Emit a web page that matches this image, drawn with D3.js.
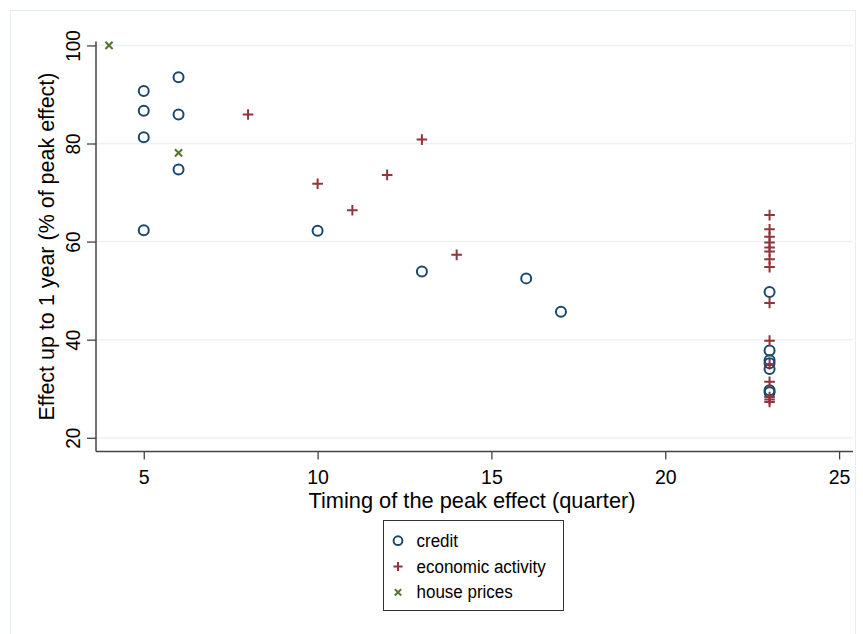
<!DOCTYPE html>
<html><head><meta charset="utf-8">
<script src="https://cdn.jsdelivr.net/npm/d3@7"></script>
<style>
html,body{margin:0;padding:0;background:#fff;}
text{font-family:"Liberation Sans",Arial,sans-serif;fill:#000;}
</style></head>
<body><svg id="c" width="863" height="634"></svg>
<script>
// Data (x = timing of peak effect in quarters, y = effect up to 1 year, % of peak effect)
const creditX = [5, 5, 5, 5, 6, 6, 6, 10, 13, 16, 17, 23, 23, 23, 23, 23, 23, 23];
const creditY = [90.7, 86.7, 81.3, 62.3, 93.5, 85.9, 74.7, 62.2, 53.9, 52.5, 45.7, 49.7, 37.8, 35.8, 35.2, 34.0, 29.7, 29.3];
const activityX = [8, 10, 11, 12, 13, 14, 23, 23, 23, 23, 23, 23, 23, 23, 23, 23, 23, 23, 23, 23, 23];
const activityY = [85.9, 71.8, 66.4, 73.6, 80.8, 57.3, 65.4, 62.5, 61.0, 59.8, 58.8, 56.4, 54.8, 47.5, 39.8, 35.0, 31.4, 28.3, 27.8, 27.3, 58.0];
const houseX = [4, 6];
const houseY = [100, 78.1];
const xTicks = [5, 10, 15, 20, 25];
const yTicks = [20, 40, 60, 80, 100];
const seriesNames = ["credit", "economic activity", "house prices"];
const xTitle = "Timing of the peak effect (quarter)";
const yTitle = "Effect up to 1 year (% of peak effect)";

const colors = {credit: "#1a476f", activity: "#90353b", house: "#55752f"};
const svg = d3.select("#c");

// outer frame
svg.append("rect").attr("x", 10.5).attr("y", 10.5).attr("width", 845).attr("height", 640)
  .attr("fill", "none").attr("stroke", "#e6eeee").attr("stroke-width", 1);

const L = 96, R = 853, T = 41.5, B = 451.5;
const x = d3.scaleLinear().domain([3.626, 25.40]).range([L, R]);
const y = d3.scaleLinear().domain([17.2, 100.8]).range([B, T]);

// gridlines
svg.append("g").selectAll("line").data(yTicks).join("line")
  .attr("x1", L).attr("x2", R).attr("y1", d => y(d)).attr("y2", d => y(d))
  .attr("stroke", "#eaf2f3").attr("stroke-width", 1.5);

// x axis
const xa = svg.append("g").attr("transform", `translate(0,${B})`)
  .call(d3.axisBottom(x).tickValues(xTicks).tickSize(8).tickPadding(4).tickFormat(d3.format("d")));
xa.select(".domain").attr("stroke", "#444").attr("stroke-width", 1.5).attr("d", `M${L},0H${R}`);
xa.selectAll(".tick line").attr("stroke", "#444").attr("stroke-width", 1.3);
xa.selectAll(".tick text").attr("font-size", 19.5).attr("dy", null).attr("y", 32.5)
  .attr("font-family", "Liberation Sans, Arial, sans-serif").attr("fill", "#000");

// y axis
const ya = svg.append("g").attr("transform", `translate(${L},0)`)
  .call(d3.axisLeft(y).tickValues(yTicks).tickSize(9).tickFormat(d3.format("d")));
ya.select(".domain").attr("stroke", "#444").attr("stroke-width", 1.5).attr("d", `M0,${T}V${B}`);
ya.selectAll(".tick line").attr("stroke", "#444").attr("stroke-width", 1.3);
ya.selectAll(".tick text").attr("font-size", 19).attr("x", null).attr("dy", null)
  .attr("text-anchor", "middle").attr("transform", "translate(-16,0) rotate(-90) scale(1,1.1)")
  .attr("font-family", "Liberation Sans, Arial, sans-serif").attr("fill", "#000");

// titles
svg.append("text").attr("x", (L + R) / 2 - 2.5).attr("y", 508)
  .attr("text-anchor", "middle").attr("font-size", 21.8).text(xTitle);
svg.append("text").attr("transform", `translate(53.5,${(T + B) / 2}) rotate(-90) scale(1,1.06)`)
  .attr("text-anchor", "middle").attr("font-size", 21.5).text(yTitle);

// marker helpers
function plus(g, cx, cy, s, c, w) {
  g.append("path").attr("d", `M${cx - s},${cy}H${cx + s}M${cx},${cy - s}V${cy + s}`)
    .attr("stroke", c).attr("stroke-width", w).attr("fill", "none");
}
function cross(g, cx, cy, s, c, w) {
  g.append("path").attr("d", `M${cx - s},${cy - s}L${cx + s},${cy + s}M${cx - s},${cy + s}L${cx + s},${cy - s}`)
    .attr("stroke", c).attr("stroke-width", w).attr("fill", "none");
}

const pts = svg.append("g");
// credit circles
pts.selectAll("circle").data(creditX.map((d, i) => [d, creditY[i]])).join("circle")
  .attr("cx", d => x(d[0])).attr("cy", d => y(d[1])).attr("r", 5)
  .attr("fill", "none").attr("stroke", colors.credit).attr("stroke-width", 2);
// economic activity plus
activityX.forEach((d, i) => plus(pts, x(d), y(activityY[i]), 5.3, colors.activity, 2));
// house prices x
houseX.forEach((d, i) => cross(pts, x(d), y(houseY[i]), 3.6, colors.house, 2));

// legend
const lg = svg.append("g");
lg.append("rect").attr("x", 383.5).attr("y", 520.5).attr("width", 180).attr("height", 90)
  .attr("fill", "#fff").attr("stroke", "#333").attr("stroke-width", 1);
const rows = [540.7, 566.5, 592.3];
lg.append("circle").attr("cx", 398).attr("cy", rows[0]).attr("r", 4.4)
  .attr("fill", "none").attr("stroke", colors.credit).attr("stroke-width", 2);
plus(lg, 398, rows[1], 4.6, colors.activity, 2);
cross(lg, 398, rows[2], 3.2, colors.house, 2);
seriesNames.forEach((n, i) => {
  lg.append("text").attr("transform", `translate(416.5,${rows[i] + 6}) scale(1,1.06)`)
    .attr("font-size", 17).text(n);
});
</script></body></html>
